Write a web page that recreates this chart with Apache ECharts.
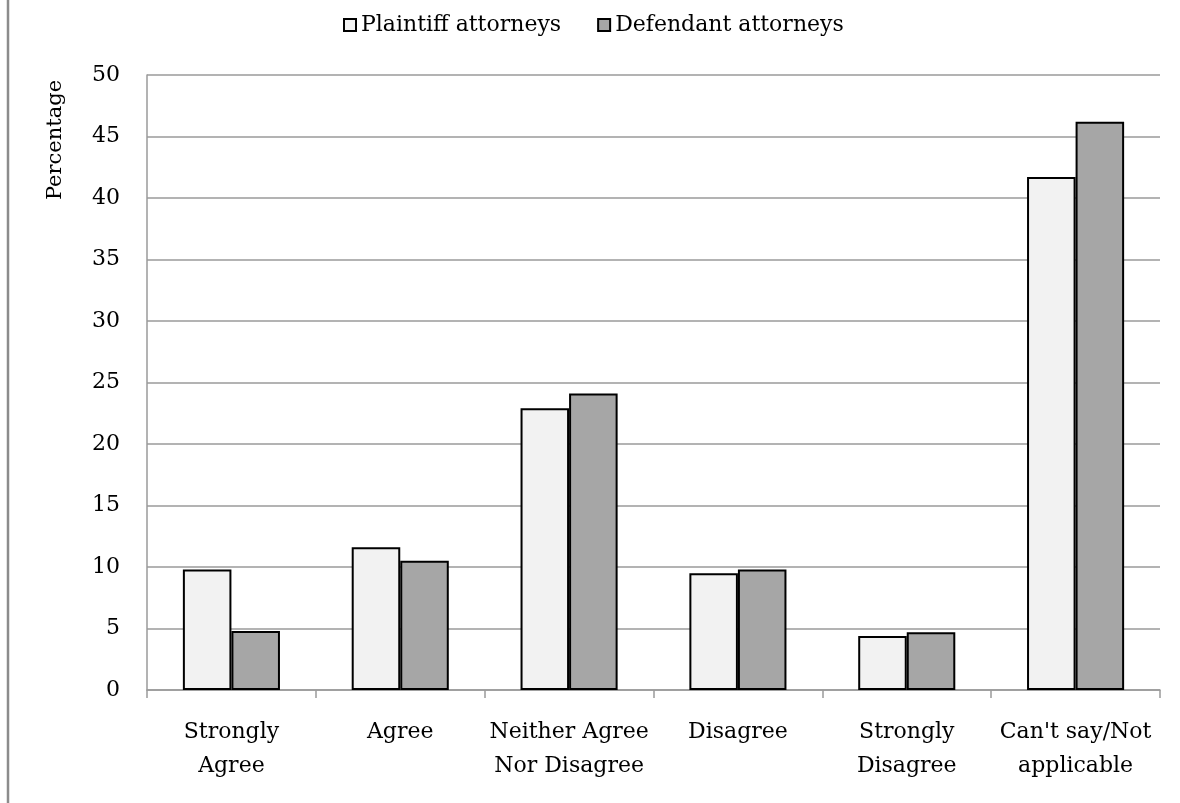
<!DOCTYPE html>
<html>
<head>
<meta charset="utf-8">
<style>
  html, body { margin: 0; padding: 0; background: #ffffff; }
  #chart { width: 1180px; height: 803px; }
</style>
<script src="https://cdn.jsdelivr.net/npm/echarts@6/dist/echarts.min.js"></script>
</head>
<body>
<div id="chart"></div>
<script>
// Survey responses by attorney group (percent)
const categories = [
  'Strongly\nAgree',
  'Agree',
  'Neither Agree\nNor Disagree',
  'Disagree',
  'Strongly\nDisagree',
  "Can't say/Not\napplicable"
];
const plaintiffValues = [9.8, 11.6, 22.9, 9.5, 4.4, 41.7];
const defendantValues = [4.8, 10.5, 24.1, 9.8, 4.7, 46.2];
const yTicks = { min: 0, max: 50, interval: 5 };

const FONT = '"DejaVu Serif", "Liberation Serif", serif';
const AXIS_GRAY = '#9a9a9a';

const chart = echarts.init(document.getElementById('chart'), null, { renderer: 'canvas' });

chart.setOption({
  backgroundColor: '#ffffff',
  animation: false,
  textStyle: { fontFamily: FONT, color: '#000' },
  legend: {
    top: 9,
    left: 338,
    itemWidth: 12,
    itemHeight: 12,
    itemGap: 36,
    icon: 'rect',
    textStyle: { fontFamily: FONT, fontSize: 22, color: '#000' },
    data: ['Plaintiff attorneys', 'Defendant attorneys']
  },
  grid: { left: 147, right: 20, top: 75, bottom: 113, containLabel: false },
  xAxis: {
    type: 'category',
    data: categories,
    boundaryGap: true,
    axisLine: { show: true, lineStyle: { color: AXIS_GRAY, width: 1.5 } },
    axisTick: { show: true, alignWithLabel: false, length: 8, lineStyle: { color: AXIS_GRAY, width: 1.5 } },
    axisLabel: {
      margin: 25,
      fontFamily: FONT,
      fontSize: 22,
      lineHeight: 34,
      color: '#000',
      interval: 0
    }
  },
  yAxis: {
    type: 'value',
    min: yTicks.min,
    max: yTicks.max,
    interval: yTicks.interval,
    axisLine: { show: true, lineStyle: { color: AXIS_GRAY, width: 1.5 } },
    axisTick: { show: false },
    splitLine: { show: true, lineStyle: { color: AXIS_GRAY, width: 1.5 } },
    axisLabel: { margin: 27, fontFamily: FONT, fontSize: 22, color: '#000' }
  },
  graphic: [
    {
      type: 'line',
      shape: { x1: 8, y1: 0, x2: 8, y2: 803 },
      style: { stroke: '#8c8c8c', lineWidth: 2.5 }
    },
    {
      type: 'text',
      x: 56,
      y: 140,
      rotation: Math.PI / 2,
      style: {
        text: 'Percentage',
        fontFamily: FONT,
        fontSize: 21,
        fill: '#000',
        align: 'center',
        verticalAlign: 'middle'
      }
    }
  ],
  series: [
    {
      name: 'Plaintiff attorneys',
      type: 'bar',
      data: plaintiffValues,
      barGap: '0%',
      barCategoryGap: '42.5%',
      itemStyle: { color: '#f2f2f2', borderColor: '#000', borderWidth: 2 }
    },
    {
      name: 'Defendant attorneys',
      type: 'bar',
      data: defendantValues,
      barGap: '0%',
      barCategoryGap: '42.5%',
      itemStyle: { color: '#a6a6a6', borderColor: '#000', borderWidth: 2 }
    }
  ]
});
</script>
</body>
</html>
